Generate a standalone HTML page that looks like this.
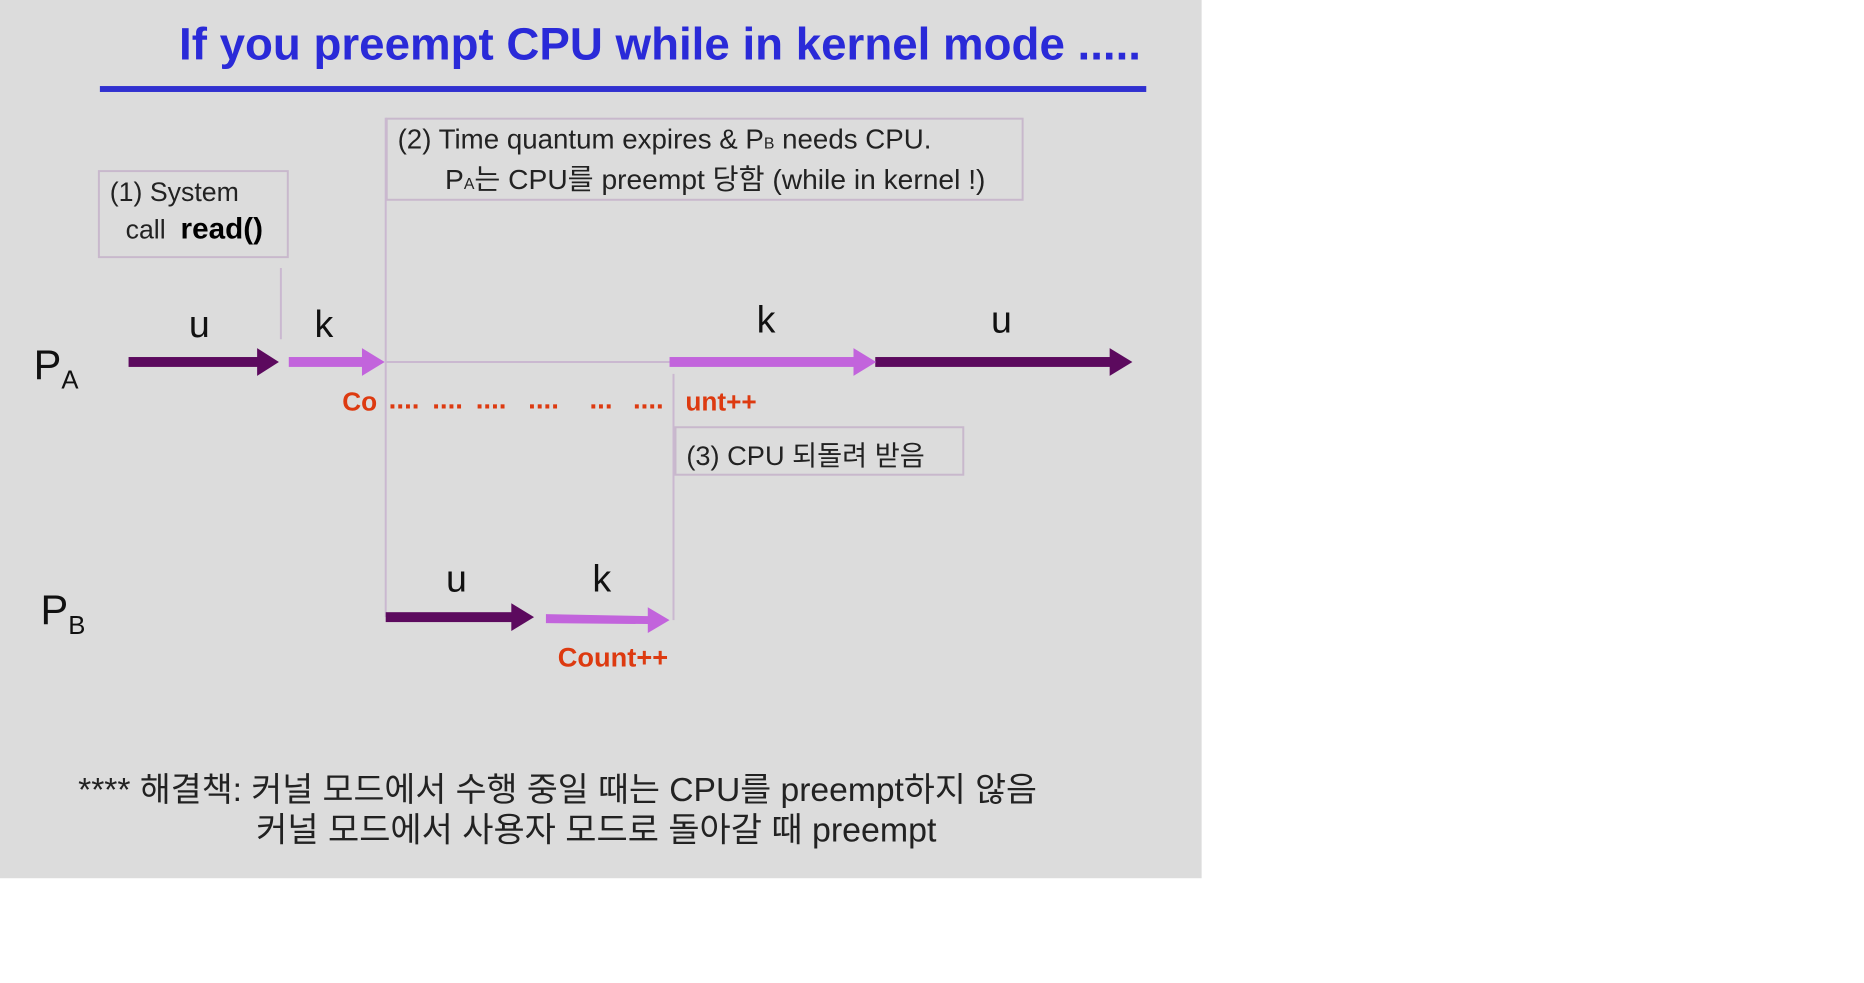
<!DOCTYPE html>
<html><head><meta charset="utf-8">
<style>
body{margin:0;width:1864px;height:983px;background:#fff;overflow:hidden;position:relative;font-family:"Liberation Sans","Noto Sans CJK KR",sans-serif}
#w{position:absolute;left:0;top:0;width:1215px;height:888px;transform:scale(0.989);transform-origin:0 0}
#bg{position:absolute;left:0;top:0;width:1215px;height:888px;background:#dcdcdc}
.t{position:absolute;white-space:nowrap;color:#111}
.box{position:absolute;border:2px solid #c8b8cc;box-sizing:border-box}
.red{color:#dd3a10;font-weight:bold;font-size:26.5px}
.d{position:absolute;color:#dd3a10;font-weight:bold;font-size:28px;top:388px}
</style></head><body>
<div id="w">
<div id="bg"></div>
<div class="t" style="left:181px;top:17px;font-size:46.2px;font-weight:bold;color:#2a2ad8">If you preempt CPU while in kernel mode .....</div>
<div style="position:absolute;left:101px;top:87px;width:1058px;height:6px;background:#3030d0"></div>

<div class="box" style="left:99px;top:172px;width:193px;height:89px"></div>
<div class="t" style="left:111px;top:179px;font-size:27px;color:#222">(1) System</div>
<div class="t" style="left:127px;top:215px;font-size:27px;color:#222">call&nbsp; <b style="color:#000;font-size:30px">read()</b></div>

<div class="box" style="left:390px;top:119px;width:645px;height:84px"></div>
<div class="t" style="left:402px;top:125px;font-size:28px;color:#222">(2) Time quantum expires &amp; P<span style="font-size:16px">B</span> needs CPU.</div>
<div class="t" style="left:450px;top:159px;font-size:28.5px;color:#222">P<span style="font-size:16px">A</span>는 CPU를 preempt 당함 (while in kernel !)</div>

<div class="box" style="left:682px;top:431px;width:293px;height:50px"></div>
<div class="t" style="left:694px;top:438px;font-size:27.5px;color:#222">(3) CPU 되돌려 받음</div>

<svg style="position:absolute;left:0;top:0" width="1215" height="888">
<g stroke="#cab8d0" stroke-width="2" fill="none">
<line x1="390" y1="119" x2="390" y2="624"/>
<line x1="681" y1="378" x2="681" y2="627"/>
<line x1="284" y1="271" x2="284" y2="343"/>
<line x1="390" y1="366" x2="677" y2="366"/>
</g>
<g fill="#5c0a5e">
<rect x="130" y="361" width="132" height="10"/><polygon points="260,352 282,366 260,380"/>
<rect x="885" y="361" width="240" height="10"/><polygon points="1122,352 1145,366 1122,380"/>
<rect x="390" y="619" width="130" height="10"/><polygon points="517,610 540,624 517,638"/>
</g>
<g fill="#c264dc">
<rect x="292" y="361" width="76" height="10"/><polygon points="366,352 389,366 366,380"/>
<rect x="677" y="361" width="188" height="10"/><polygon points="863,352 886,366 863,380"/>
<polygon points="552,621 655,623 655,614 677,627 655,640 655,631 552,630"/>
</g>
</svg>

<div class="t" style="left:191px;top:308px;font-size:38px">u</div>
<div class="t" style="left:318px;top:308px;font-size:38px">k</div>
<div class="t" style="left:765px;top:303px;font-size:38px">k</div>
<div class="t" style="left:1002px;top:303px;font-size:38px">u</div>
<div class="t" style="left:451px;top:565px;font-size:38px">u</div>
<div class="t" style="left:599px;top:565px;font-size:38px">k</div>

<div class="t" style="left:34px;top:345px;font-size:42px">P<span style="font-size:26px;position:relative;top:10px">A</span></div>
<div class="t" style="left:41px;top:593px;font-size:42px">P<span style="font-size:26px;position:relative;top:10px">B</span></div>

<div class="t red" style="left:346px;top:391px">Co</div>
<div class="d" style="left:393px">....</div>
<div class="d" style="left:437px">....</div>
<div class="d" style="left:481px">....</div>
<div class="d" style="left:534px">....</div>
<div class="d" style="left:596px">...</div>
<div class="d" style="left:640px">....</div>
<div class="t red" style="left:693px;top:391px">unt++</div>
<div class="t red" style="left:564px;top:649px;font-size:27.5px">Count++</div>

<div class="t" style="left:79px;top:771px;font-size:34px;color:#222">**** 해결책: 커널 모드에서 수행 중일 때는 CPU를 preempt하지 않음</div>
<div class="t" style="left:259px;top:811px;font-size:34.3px;color:#222">커널 모드에서 사용자 모드로 돌아갈 때 preempt</div>
</div>
</body></html>
